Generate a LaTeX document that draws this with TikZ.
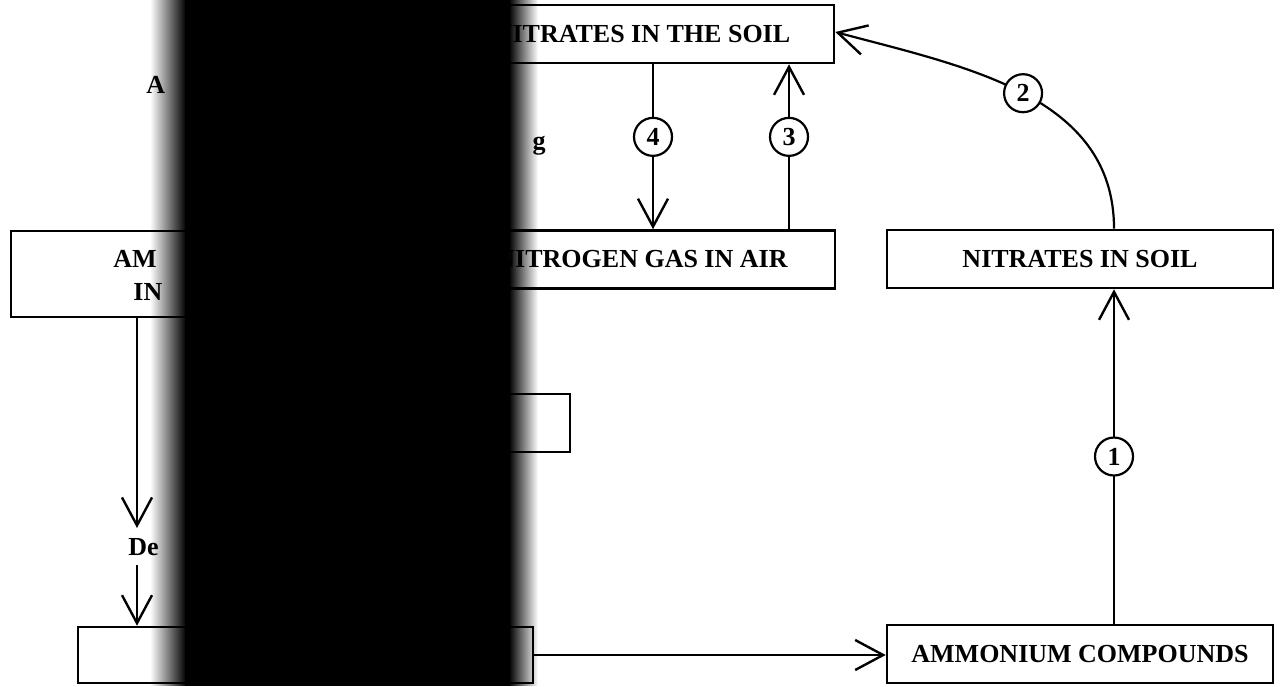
\documentclass[tikz,border=0pt]{standalone}
\usepackage{fontspec}
\setmainfont{Liberation Serif}
\usepackage{tikz}
\usetikzlibrary{arrows.meta,fadings}

\begin{document}
\begin{tikzpicture}[
    x=0.5pt, y=0.5pt,
    box/.style={rectangle, draw, line width=1.3pt, inner sep=0pt, minimum height=29pt, font=\bfseries\fontsize{13}{16}\selectfont},
    frag/.style={inner sep=0pt, font=\bfseries\fontsize{13}{16}\selectfont},
    numcirc/.style={circle, draw, fill=white, line width=1.1pt, minimum size=19pt, inner sep=0pt, font=\bfseries\fontsize{13}{16}\selectfont},
    line/.style={draw, line width=1.1pt, -{Straight Barb[length=14pt, width=15pt, line width=1.2pt]}}
]
\useasboundingbox (0,0) rectangle (1283,-686);

% Boxes
\node [box, minimum width=192pt] (topbox) at (642,-34) {NITRATES IN THE SOIL};
\node [box, minimum width=193pt] (gasbox) at (642,-259.5) {NITROGEN GAS IN AIR};
\node [box, minimum width=193pt] (soilbox) at (1080,-259) {NITRATES IN SOIL};
\node [box, minimum width=193pt] (ammbox) at (1080,-654) {AMMONIUM COMPOUNDS};
\node [box, minimum width=159.5pt, minimum height=43pt] (leftbox) at (170.5,-274) {};
\node [box, minimum width=135pt] (midbox) at (435,-423) {};
\node [box, minimum width=227.5pt, minimum height=28pt] (botbox) at (305.5,-655) {};

% Visible text fragments
\node [frag, anchor=base west] (am) at (113,-267) {AM};
\node [frag, anchor=base west] (in) at (133,-300) {IN};
\node [frag, anchor=base west] (den) at (128,-555) {De};
\node [frag, anchor=base west] (afrag) at (146,-93) {A};
\node [frag, anchor=base east] (gfrag) at (546,-149) {g};

% Line positions
\coordinate (xone) at (1114,0);
\coordinate (xthree) at (789,0);
\coordinate (xfour) at (653,0);
\coordinate (xleft) at (137,0);
\coordinate (dtop) at (137,-528);
\coordinate (dbot) at (137,-565);

% Connections - numbered steps
\path [line] (ammbox.north -| xone) -- node[numcirc] {1} (soilbox.south -| xone);
\path [line] (soilbox.north -| xone) to[out=90, in=-15] node[numcirc] {2} (topbox.east |- 0,-32);
\path [line] (gasbox.north -| xthree) -- node[numcirc, pos=0.56] {3} (topbox.south -| xthree);
\path [line] (topbox.south -| xfour) -- node[numcirc, pos=0.44] {4} (gasbox.north -| xfour);

% Connections - left side
\path [line] (leftbox.south -| xleft) -- (dtop);
\path [line] (dbot) -- (botbox.north -| xleft);
\path [line] (botbox.east) -- (botbox.east -| ammbox.west);

% Black band
\fill [black, path fading=west] (150,0) rectangle (186,-686);
\fill [black] (185,0) rectangle (510,-686);
\fill [black, path fading=east] (509,0) rectangle (538,-686);

\end{tikzpicture}
\end{document}
